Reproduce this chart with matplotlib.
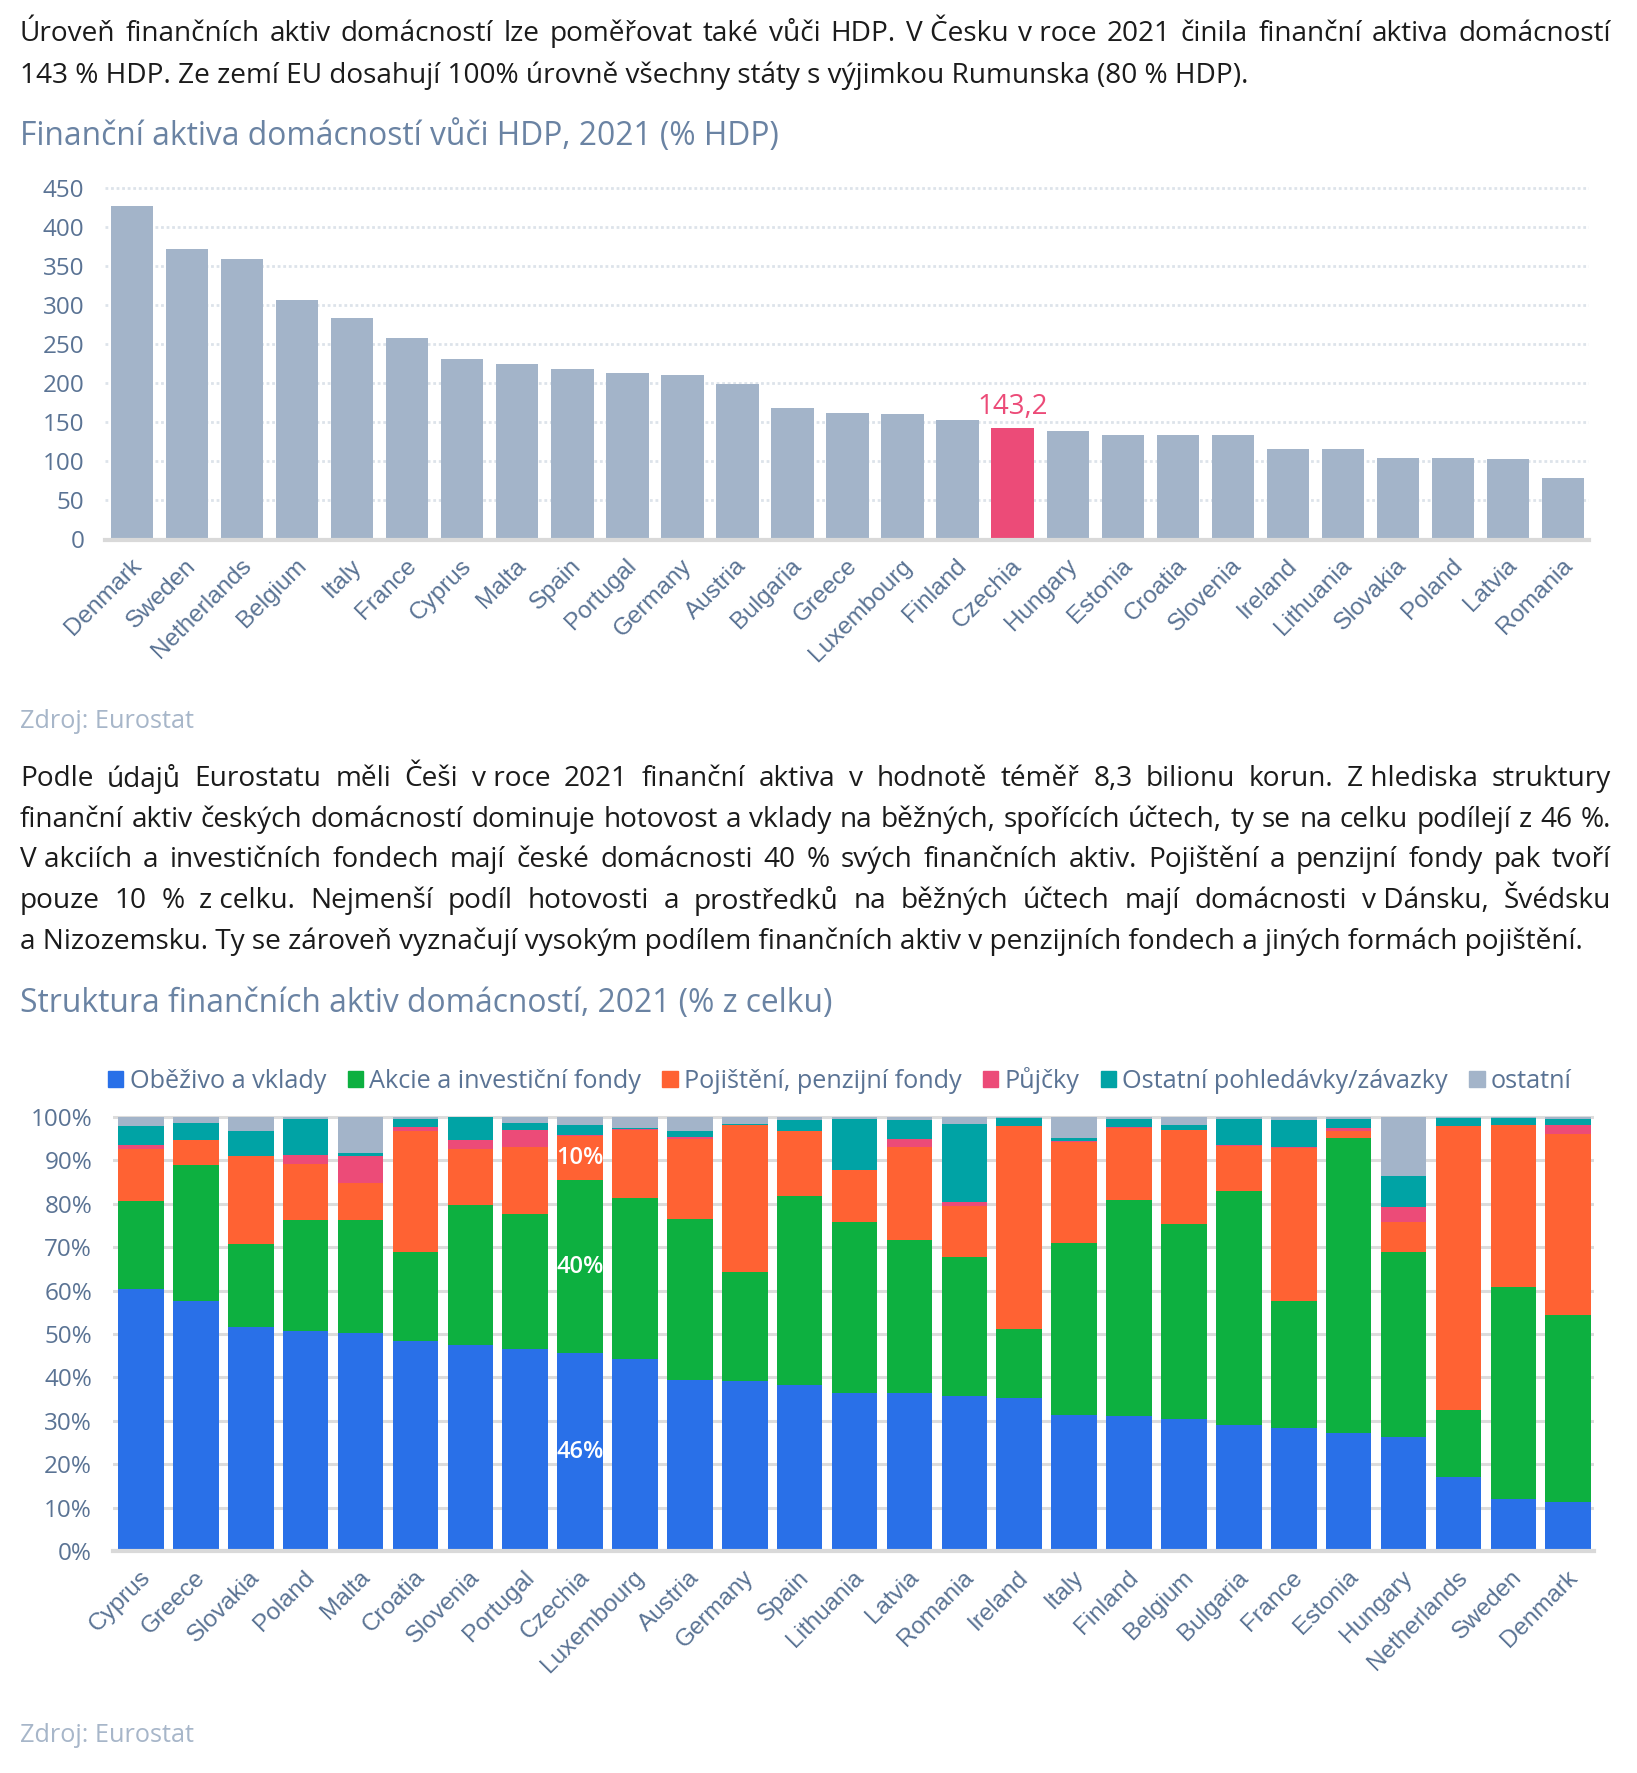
import numpy as np
import matplotlib.pyplot as plt
import matplotlib.transforms as mtransforms
from matplotlib.patches import Patch

W, H = 1637, 1773

# --- chart 1: financial assets of households, % of GDP, 2021
countries_hdp = ["Denmark", "Sweden", "Netherlands", "Belgium", "Italy", "France",
                 "Cyprus", "Malta", "Spain", "Portugal", "Germany", "Austria",
                 "Bulgaria", "Greece", "Luxembourg", "Finland", "Czechia", "Hungary",
                 "Estonia", "Croatia", "Slovenia", "Ireland", "Lithuania", "Slovakia",
                 "Poland", "Latvia", "Romania"]
hdp_values = [426.7, 371.8, 359.0, 306.8, 283.0, 257.8, 231.2, 224.4, 218.9, 213.4,
              211.1, 199.6, 168.5, 161.6, 160.3, 153.4, 143.2, 139.2, 133.7, 133.2,
              133.2, 115.4, 115.4, 104.4, 104.4, 103.5, 78.3]
highlight = "Czechia"

# --- chart 2: structure of financial assets, % of total, 2021
countries_struct = ["Cyprus", "Greece", "Slovakia", "Poland", "Malta", "Croatia",
                    "Slovenia", "Portugal", "Czechia", "Luxembourg", "Austria",
                    "Germany", "Spain", "Lithuania", "Latvia", "Romania", "Ireland",
                    "Italy", "Finland", "Belgium", "Bulgaria", "France", "Estonia",
                    "Hungary", "Netherlands", "Sweden", "Denmark"]
obezivo = [60.3, 57.5, 51.6, 50.7, 50.3, 48.3, 47.4, 46.5, 45.6, 44.3, 39.3, 39.2,
           38.2, 36.5, 36.5, 35.8, 35.2, 31.3, 31.2, 30.4, 29.1, 28.4, 27.2, 26.2,
           17.0, 12.0, 11.4]
akcie = [20.4, 31.5, 19.1, 25.6, 26.0, 20.6, 32.3, 31.2, 39.8, 37.0, 37.2, 25.0,
         43.7, 39.4, 35.1, 32.0, 15.9, 39.6, 49.6, 44.9, 53.8, 29.1, 68.0, 42.6,
         15.6, 48.8, 42.9]
pojisteni = [11.9, 5.6, 20.2, 12.8, 8.5, 27.9, 12.9, 15.3, 10.3, 15.7, 18.5, 33.9,
             14.8, 11.8, 21.5, 11.6, 46.9, 23.4, 16.7, 21.7, 10.5, 35.4, 1.6, 7.0,
             65.4, 37.3, 41.8]
pujcky = [0.9, 0.0, 0.2, 2.1, 6.1, 0.9, 2.1, 3.9, 0.1, 0.3, 0.3, 0.1, 0.0, 0.2, 1.9,
          1.0, 0.0, 0.2, 0.1, 0.1, 0.1, 0.1, 0.7, 3.4, 0.0, 0.0, 2.1]
ostatni_pohl = [4.5, 4.1, 5.6, 8.4, 0.8, 1.9, 5.2, 1.8, 2.3, 0.1, 1.5, 0.2, 2.6, 11.6,
                4.3, 18.1, 1.7, 0.7, 1.9, 1.0, 6.1, 6.3, 2.1, 7.3, 1.7, 1.6, 1.3]
ostatni = [2.0, 1.3, 3.3, 0.4, 8.3, 0.4, 0.1, 1.3, 1.9, 2.6, 3.2, 1.6, 0.7, 0.5, 0.7,
           1.5, 0.3, 4.8, 0.5, 1.9, 0.4, 0.7, 0.4, 13.5, 0.3, 0.3, 0.5]
series_names = ["Oběživo a vklady", "Akcie a investiční fondy", "Pojištění, penzijní fondy",
                "Půjčky", "Ostatní pohledávky/závazky", "ostatní"]

par1 = [
    "Úroveň finančních aktiv domácností lze poměřovat také vůči HDP. V\u00a0Česku v\u00a0roce 2021 činila finanční aktiva domácností",
    "143 % HDP. Ze zemí EU dosahují 100% úrovně všechny státy s výjimkou Rumunska (80 % HDP).",
]
par2 = [
    "Podle údajů Eurostatu měli Češi v\u00a0roce 2021 finanční aktiva v hodnotě téměř 8,3 bilionu korun. Z\u00a0hlediska struktury",
    "finanční aktiv českých domácností dominuje hotovost a vklady na běžných, spořících účtech, ty se na celku podílejí z 46 %.",
    "V\u00a0akciích a investičních fondech mají české domácnosti 40 % svých finančních aktiv. Pojištění a penzijní fondy pak tvoří",
    "pouze 10 % z\u00a0celku. Nejmenší podíl hotovosti a prostředků na běžných účtech mají domácnosti v\u00a0Dánsku, Švédsku",
    "a Nizozemsku. Ty se zároveň vyznačují vysokým podílem finančních aktiv v penzijních fondech a jiných formách pojištění.",
]
title1 = "Finanční aktiva domácností vůči HDP, 2021 (% HDP)"
title2 = "Struktura finančních aktiv domácností, 2021 (% z celku)"
source = "Zdroj: Eurostat"

BAR_GREY = "#a3b4c9"
PINK = "#ec4b78"
SERIES_COLORS = ["#2970e8", "#0db040", "#ff6233", "#ec4b78", "#00a3a5", "#a3b4c9"]
TICK_C = "#5a7394"
TITLE_C = "#6a83a3"
SRC_C = "#a7b6c9"
TEXT_C = "#1b1b1b"
BODY_FONT = ["Open Sans", "DejaVu Sans"]
LABEL_FONT = ["Liberation Sans", "DejaVu Sans"]

plt.rcParams["font.family"] = BODY_FONT

fig = plt.figure(figsize=(W / 100, H / 100), dpi=100)
renderer = fig.canvas.get_renderer()

TEXT_L, TEXT_R = 20, 1611


def fx(px):
    return px / W


def fy(py):
    return 1 - py / H


def width_at(s, size):
    t = fig.text(0, 0, s, fontsize=size)
    w = t.get_window_extent(renderer).width
    t.remove()
    return w


def fit_size(s, target):
    return 10 * target / width_at(s, 10)


def text_line(line, y, justify, size, **kw):
    if not justify:
        fig.text(fx(TEXT_L), fy(y), line, va="center", ha="left", fontsize=size, **kw)
        return
    words = line.split(" ")
    texts = [fig.text(0, fy(y), w, va="center", ha="left", fontsize=size, **kw)
             for w in words]
    widths = [t.get_window_extent(renderer).width for t in texts]
    gap = (TEXT_R - TEXT_L - sum(widths)) / (len(words) - 1)
    x = TEXT_L
    for t, w in zip(texts, widths):
        t.set_x(fx(x))
        x += w + gap


# body text size: the tightest justified line sets with normal spacing
justified = par1[:-1] + par2[:-1]
body_size = min(fit_size(l, TEXT_R - TEXT_L) for l in justified) * 0.995
for i, (line, y) in enumerate(zip(par1, [34, 76])):
    text_line(line, y, i < len(par1) - 1, body_size, color=TEXT_C)
for i, (line, y) in enumerate(zip(par2, [779, 820, 860, 901, 942])):
    text_line(line, y, i < len(par2) - 1, body_size, color=TEXT_C)

title_size = (fit_size(title1, 758) + fit_size(title2, 811)) / 2
fig.text(fx(TEXT_L), fy(137), title1, fontsize=title_size, color=TITLE_C, va="center")
fig.text(fx(TEXT_L), fy(1003), title2, fontsize=title_size, color=TITLE_C, va="center")
src_size = fit_size(source, 174)
fig.text(fx(TEXT_L), fy(721), source, fontsize=src_size, color=SRC_C, va="center")
fig.text(fx(TEXT_L), fy(1736), source, fontsize=src_size, color=SRC_C, va="center")

label_shift = mtransforms.ScaledTranslation(-2 / 100, 0, fig.dpi_scale_trans)


def style_axes(ax, grid_kw):
    for side in ["top", "right", "left"]:
        ax.spines[side].set_visible(False)
    ax.spines["bottom"].set_color("#d9d9d9")
    ax.spines["bottom"].set_linewidth(3)
    ax.spines["bottom"].set_zorder(3)
    ax.yaxis.grid(True, **grid_kw)
    ax.set_axisbelow(True)
    ax.tick_params(axis="y", length=0, pad=15, labelsize=17.5, labelcolor=TICK_C)
    ax.tick_params(axis="x", length=0, pad=11)


def style_xlabels(ax):
    for lbl in ax.get_xticklabels():
        lbl.set(rotation=45, ha="right", va="top", rotation_mode="anchor",
                family=LABEL_FONT, fontsize=17.5, color=TICK_C)
        lbl.set_transform(lbl.get_transform() + label_shift)


# ---- upper chart
y0, y450 = 539.5, 188
ymax1 = 455
top1 = y0 - (y0 - y450) * ymax1 / 450
ax1 = fig.add_axes([fx(105), fy(y0), (1589 - 105) / W, (y0 - top1) / H])
x1 = np.arange(len(countries_hdp))
bar_colors = [PINK if c == highlight else BAR_GREY for c in countries_hdp]
ax1.bar(x1, hdp_values, width=0.77, color=bar_colors, zorder=2)
ax1.set_xlim(-0.49, 26.47)
ax1.set_ylim(0, ymax1)
ax1.set_yticks(range(0, 451, 50))
ax1.set_xticks(x1, countries_hdp)
style_axes(ax1, dict(color="#dde3ea", linestyle=(0, (1, 1)), linewidth=2))
style_xlabels(ax1)

hi = countries_hdp.index(highlight)
ax1.annotate(f"{hdp_values[hi]:.1f}".replace(".", ","), (hi, hdp_values[hi]),
             xytext=(0, 5), textcoords="offset points", ha="center", va="bottom",
             fontsize=20, color=PINK)

# ---- lower chart
b0, b100 = 1551, 1117
ymax2 = 101
top2 = b0 - (b0 - b100) * ymax2 / 100
ax2 = fig.add_axes([fx(113), fy(b0), (1594 - 113) / W, (b0 - top2) / H])
x2 = np.arange(len(countries_struct))
series = [obezivo, akcie, pojisteni, pujcky, ostatni_pohl, ostatni]
bottom = np.zeros(len(countries_struct))
ci = countries_struct.index(highlight)
for k, (vals, col, name) in enumerate(zip(series, SERIES_COLORS, series_names)):
    vals = np.array(vals)
    ax2.bar(x2, vals, bottom=bottom, width=0.83, color=col, zorder=2, label=name)
    if k < 3:
        ax2.text(ci, bottom[ci] + vals[ci] / 2, f"{vals[ci]:.0f}%", ha="center",
                 va="center", color="white", fontsize=17, fontweight="semibold", zorder=4)
    bottom += vals
ax2.set_xlim(-0.51, 26.47)
ax2.set_ylim(0, ymax2)
ax2.set_yticks(range(0, 101, 10), [f"{v}%" for v in range(0, 101, 10)])
ax2.set_xticks(x2, countries_struct)
style_axes(ax2, dict(color="#dcdcdc", linestyle="-", linewidth=2.2))
style_xlabels(ax2)

handles = [Patch(color=c, label=n) for c, n in zip(SERIES_COLORS, series_names)]
fig.legend(handles=handles, loc="center", bbox_to_anchor=(fx(840), fy(1080)),
           ncol=6, frameon=False, fontsize=18.2, labelcolor=TICK_C,
           handlelength=0.6, handleheight=0.6, handletextpad=0.25,
           columnspacing=0.85, borderaxespad=0)

fig.savefig("out.png", dpi=100)
